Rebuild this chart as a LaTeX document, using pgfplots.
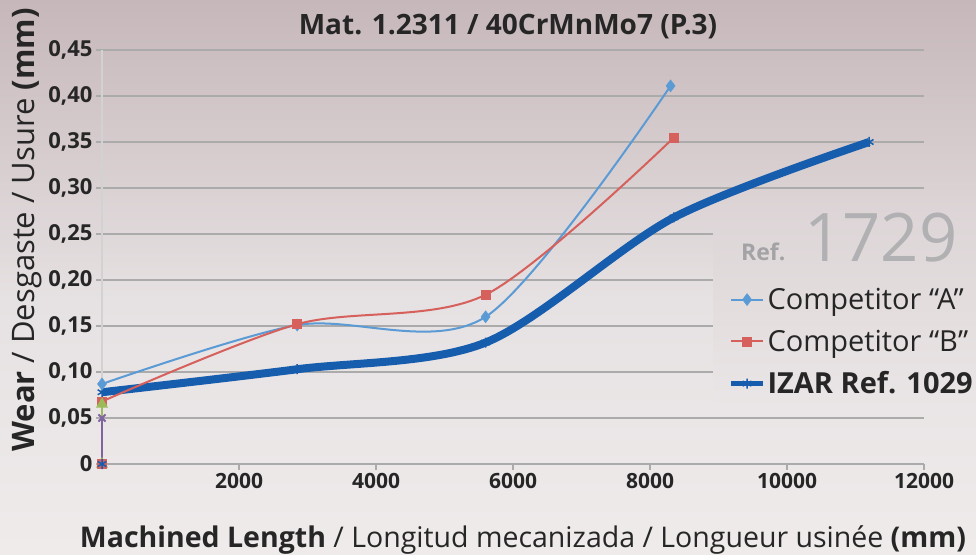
\documentclass[border=0pt]{standalone}
\usepackage{pgfplots}
\pgfplotsset{compat=1.18}
\usepackage{fontspec}
\setmainfont{Open Sans}
\definecolor{cA}{HTML}{5B9BD5}
\definecolor{cB}{HTML}{D5605C}
\definecolor{cI}{HTML}{175DAE}
\definecolor{cG}{HTML}{9BBB59}
\definecolor{cP}{HTML}{8064A2}
\definecolor{bgTop}{HTML}{C6B7BA}
\definecolor{bgMid}{HTML}{E6E1E2}
\definecolor{bgBot}{HTML}{EFEBEB}
\definecolor{txt}{HTML}{262626}
\definecolor{refgray}{HTML}{A3A3A6}
\definecolor{gridc}{HTML}{ABABAB}
\begin{document}
\begin{tikzpicture}[x=1pt,y=1pt]
\useasboundingbox (0,0) rectangle (976,554);
\fill[top color=bgTop, bottom color=bgMid] (0,253.5) rectangle (976,554);
\fill[top color=bgMid, bottom color=bgBot] (0,0) rectangle (976,254);
\begin{axis}[at={(102pt,90pt)}, anchor=south west, scale only axis,
  width=822pt, height=414pt,
  xmin=0, xmax=12000, ymin=0, ymax=0.45, clip=false,
  scaled x ticks=false, scaled y ticks=false,
  axis x line=bottom, axis y line=left,
  x axis line style={-, draw=gridc, line width=1.2pt},
  y axis line style={-, draw=gray!35, line width=1.2pt},
  xtick={2000,4000,6000,8000,10000,12000},
  xticklabels={2000,4000,6000,8000,10000,12000},
  ytick={0,0.05,0.1,0.15,0.2,0.25,0.3,0.35,0.4,0.45},
  yticklabels={0,{0,05},{0,10},{0,15},{0,20},{0,25},{0,30},{0,35},{0,40},{0,45}},
  ymajorgrids, major grid style={draw=gridc, line width=1.2pt},
  tick style={draw=gridc, line width=1.2pt}, tick align=outside, major tick length=6pt,
  y tick label style={font=\fontsize{22}{26}\selectfont\bfseries, text=txt},
  x tick label style={font=\fontsize{21}{25}\selectfont\bfseries, text=txt},
  legend style={draw=none, fill=none, at={(0.762,0.43)}, anchor=north west,
    font=\fontsize{29}{33}\selectfont, text=txt, row sep=15pt, inner sep=0pt,
    nodes={inner sep=2pt}},
  legend cell align=left,
  legend image code/.code={\draw[mark repeat=2, mark phase=2] plot coordinates {(0pt,0pt) (16pt,0pt) (32pt,0pt)};},
]
\fill[top color=bgMid!74!bgTop, bottom color=bgBot!41!bgMid] (axis cs:8920,0.064) rectangle (axis cs:13600,0.262);
\addplot[cI, line width=8pt, smooth, mark=asterisk, mark size=5pt, mark options={line width=1.5pt}, forget plot]
  coordinates {(0,0.078) (2850,0.103) (5600,0.132) (8350,0.268) (11200,0.350)};
\addplot[cA, line width=2pt, smooth, mark=diamond*, mark size=6pt, mark options={fill=cA, line width=0.5pt}]
  coordinates {(0,0.087) (2850,0.151) (5600,0.160) (8300,0.411)};
\addlegendentry{Competitor “A”}
\addplot[cB, line width=2pt, smooth, mark=square*, mark size=4.5pt, mark options={fill=cB, line width=0.5pt}]
  coordinates {(0,0.068) (2850,0.152) (5600,0.184) (8350,0.355)};
\addlegendentry{Competitor “B”}
\addlegendimage{cI, line width=5pt, mark=asterisk, mark size=5pt, mark options={line width=1.5pt}}
\addlegendentry{\textbf{IZAR Ref. 1029}}
\addplot[cG, line width=2pt, mark=triangle*, mark size=5pt, mark options={fill=cG}, forget plot]
  coordinates {(0,0) (0,0.065)};
\addplot[cP, line width=2pt, mark=x, mark size=5pt, forget plot]
  coordinates {(0,0) (0,0.05)};
\addplot[only marks, cB, mark=square*, mark size=4.5pt, forget plot] coordinates {(0,0)};
\addplot[only marks, cI, mark=asterisk, mark size=5pt, mark options={line width=1.5pt}, forget plot] coordinates {(0,0)};
\end{axis}
\node[anchor=base, text=txt, font=\fontsize{28}{32}\selectfont\bfseries] at (508,519) {Mat. 1.2311 / 40CrMnMo7 (P.3)};
\node[anchor=base, text=txt, font=\fontsize{28.5}{32}\selectfont] at (523,7)
  {\textbf{Machined Length} / Longitud mecanizada / Longueur usinée \textbf{(mm)}};
\node[anchor=base, rotate=90, text=txt, font=\fontsize{31}{35}\selectfont] at (35,324)
  {\textbf{Wear} / Desgaste / Usure \textbf{(mm)}};
\node[anchor=base west, inner sep=0pt, text=refgray, font=\fontsize{23}{27}\selectfont\bfseries] at (741,293) {Ref.};
\node[anchor=base west, inner sep=0pt, text=refgray!85, font=\fontsize{67}{77}\selectfont] at (804,292) {1729};
\end{tikzpicture}
\end{document}
